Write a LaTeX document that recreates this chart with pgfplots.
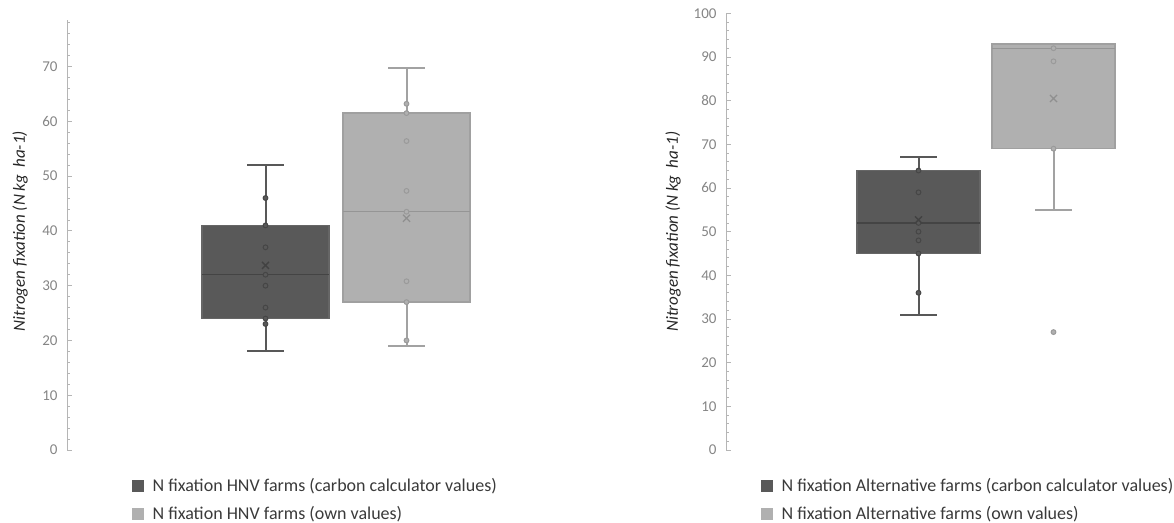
\documentclass[border=0pt]{standalone}
\usepackage{fontspec}
\setmainfont{Carlito}
\usepackage{pgfplots}
\pgfplotsset{compat=1.18}
\usepgfplotslibrary{statistics}
\definecolor{dfill}{HTML}{595959}
\definecolor{dedge}{HTML}{666666}
\definecolor{dwhisk}{HTML}{585858}
\definecolor{dmed}{HTML}{444444}
\definecolor{dpt}{HTML}{464646}
\definecolor{lfill}{HTML}{B0B0B0}
\definecolor{ledge}{HTML}{A0A0A0}
\definecolor{lwhisk}{HTML}{A2A2A2}
\definecolor{lmed}{HTML}{959595}
\definecolor{lpt}{HTML}{9A9A9A}
\definecolor{axcol}{HTML}{B5B5B5}
\definecolor{tickcol}{HTML}{858585}
\definecolor{txtcol}{HTML}{3A3A3A}
\pgfplotsset{
  sqlegend/.style={legend image code/.code={\draw[##1] (0pt,-5.5pt) rectangle (11pt,5.5pt);}},
  common/.style={
    scale only axis, clip=false,
    axis x line=none, axis y line=left,
    y axis line style={-, draw=axcol, line width=0.8pt},
    tick align=inside, major tick length=5pt, minor tick length=3pt,
    ytick style={draw=axcol, line width=0.8pt},
    minor tick style={draw=axcol, line width=0.8pt},
    yticklabel style={font=\fontsize{15}{17}\selectfont, text=tickcol, xshift=-6pt},
    /pgf/number format/assume math mode=true,
    ylabel={\itshape Nitrogen fixation (N kg\ \ ha-1)},
    ylabel style={font=\fontsize{17}{20}\selectfont, text=black!85},
    legend style={anchor=north west, draw=none, fill=none, inner sep=0pt,
      nodes={inner sep=0pt}, column sep=9pt, row sep=13pt,
      font=\fontsize{18}{21}\selectfont, text=txtcol},
    legend cell align=left,
    boxplot/draw direction=y,
  },
  dbox/.style={draw=dwhisk, line width=2pt,
    boxplot/every box/.style={draw=dedge, fill=dfill, line width=1.3pt},
    boxplot/every median/.style={draw=dmed, line width=1.3pt},
    boxplot/every whisker/.style={draw=dwhisk, line width=2pt}},
  lbox/.style={draw=lwhisk, line width=2pt,
    boxplot/every box/.style={draw=ledge, fill=lfill, line width=1.3pt},
    boxplot/every median/.style={draw=lmed, line width=1.3pt},
    boxplot/every whisker/.style={draw=lwhisk, line width=2pt}},
  dpts/.style={only marks, mark=*, mark size=2.4pt, mark options={fill=dfill, draw=dpt, line width=1pt}},
  lpts/.style={only marks, mark=*, mark size=2.4pt, mark options={fill=lfill, draw=lpt, line width=1pt}},
  dmean/.style={only marks, mark=x, mark size=5pt, mark options={draw=black!74, line width=1.3pt}},
  lmean/.style={only marks, mark=x, mark size=5pt, mark options={draw=black!44, line width=1.3pt}},
}
\begin{document}
\begin{tikzpicture}
\path (0pt,0pt) rectangle (1174pt,522pt);
% Left chart
\begin{axis}[common, at={(67pt,72pt)}, anchor=south west,
  width=538pt, height=430pt, xmin=67, xmax=605, ymin=0, ymax=78.5,
  ytick={0,10,...,70}, minor ytick={2,4,...,78},
  ylabel style={at={(axis description cs:-0.087,0.509)}, anchor=center},
  legend style={at={(axis description cs:0.1208,-0.066)}}]
\addplot[forget plot, dbox, boxplot prepared={lower whisker=18, lower quartile=24, median=32, upper quartile=41, upper whisker=52, draw position=265.5, box extend=127, whisker extend=37}] coordinates {};
\addplot[forget plot, lbox, boxplot prepared={lower whisker=19, lower quartile=27, median=43.6, upper quartile=61.5, upper whisker=69.7, draw position=406.5, box extend=127, whisker extend=37}] coordinates {};
\addplot[forget plot, dpts] coordinates {(265.5,46) (265.5,41) (265.5,37) (265.5,32) (265.5,30) (265.5,26) (265.5,24) (265.5,23)};
\addplot[forget plot, lpts] coordinates {(406.5,63.2) (406.5,61.5) (406.5,56.4) (406.5,47.3) (406.5,43.5) (406.5,30.8) (406.5,27) (406.5,20)};
\addplot[forget plot, dmean] coordinates {(265.5,33.7)};
\addplot[forget plot, lmean] coordinates {(406.5,42.3)};
\addlegendimage{sqlegend, fill=dfill, draw=dfill}
\addlegendentry{N fixation HNV farms (carbon calculator values)}
\addlegendimage{sqlegend, fill=lfill, draw=lfill}
\addlegendentry{N fixation HNV farms (own values)}
\end{axis}
% Right chart
\begin{axis}[common, at={(726pt,72pt)}, anchor=south west,
  width=444pt, height=436.7pt, xmin=726, xmax=1170, ymin=0, ymax=100,
  ytick={0,10,...,100}, minor ytick={2,4,...,98},
  ylabel style={at={(axis description cs:-0.119,0.50)}, anchor=center},
  legend style={at={(axis description cs:0.0788,-0.065)}}]
\addplot[forget plot, dbox, boxplot prepared={lower whisker=31, lower quartile=45, median=52, upper quartile=64, upper whisker=67, draw position=918.5, box extend=123, whisker extend=37}] coordinates {};
\addplot[forget plot, lbox, boxplot prepared={lower whisker=55, lower quartile=69, median=92, upper quartile=93, upper whisker=93, draw position=1053.5, box extend=123, whisker extend=37}] coordinates {};
\addplot[forget plot, dpts] coordinates {(918.5,64) (918.5,59) (918.5,52) (918.5,50) (918.5,48) (918.5,45) (918.5,36)};
\addplot[forget plot, lpts] coordinates {(1053.5,92) (1053.5,89) (1053.5,69) (1053.5,27)};
\addplot[forget plot, dmean] coordinates {(918.5,52.7)};
\addplot[forget plot, lmean] coordinates {(1053.5,80.5)};
\addlegendimage{sqlegend, fill=dfill, draw=dfill}
\addlegendentry{N fixation Alternative farms (carbon calculator values)}
\addlegendimage{sqlegend, fill=lfill, draw=lfill}
\addlegendentry{N fixation Alternative farms (own values)}
\end{axis}
\end{tikzpicture}
\end{document}
